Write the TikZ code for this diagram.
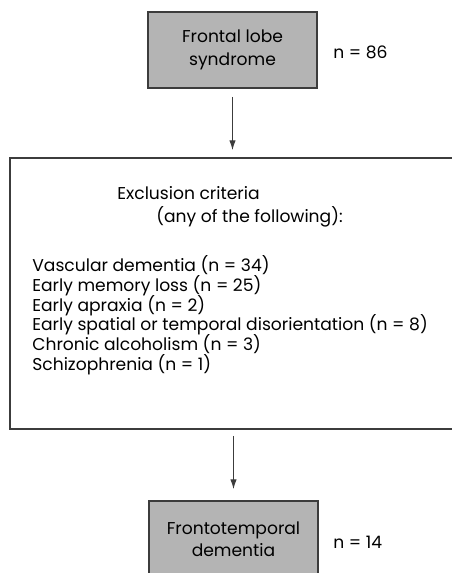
\documentclass[tikz,border=0pt]{standalone}
\usepackage{fontspec}
\setmainfont{Poppins}
\usetikzlibrary{arrows.meta}
\definecolor{boxgray}{RGB}{180,180,180}
\definecolor{linegray}{RGB}{60,60,60}

\begin{document}
\begin{tikzpicture}[
    font=\fontsize{9.75}{11.2}\selectfont,
    stagebox/.style={rectangle, draw=linegray, line width=1pt, fill=boxgray, align=center, font=\fontsize{9.75}{12.8}\selectfont, minimum width=3.38cm, minimum height=1.52cm},
    count/.style={anchor=west, inner sep=0pt},
    flow/.style={-{Latex[length=5.5pt, width=3.6pt]}, line width=0.6pt, color=linegray}
  ]
    \useasboundingbox (0,0) rectangle (9.04,-11.46);

    \node[stagebox] (frontal) at (4.65,-1.0) {Frontal lobe\\syndrome};
    \node[count] (n86) at (6.66,-1.04) {n = 86};

    \node[rectangle, draw=linegray, line width=1pt, minimum width=9.2cm, minimum height=5.42cm] (excl) at (4.8,-5.87) {};
    \node[anchor=base west, inner sep=0pt] (head) at (2.34,-3.99) {Exclusion criteria};
    \node[anchor=base west, inner sep=0pt] (subhead) at (3.12,-4.45) {(any of the following):};
    \node[anchor=north west, inner sep=0pt, align=left, font={\fontsize{9.75}{11.2}\selectfont\lineskiplimit=-6pt\relax}] (list) at (0.64,-5.11) {Vascular dementia (n = 34)\\
      Early memory loss (n = 25)\\
      Early apraxia (n = 2)\\
      Early spatial or temporal disorientation (n = 8)\\
      Chronic alcoholism (n = 3)\\
      Schizophrenia (n = 1)};

    \node[stagebox] (ftd) at (4.67,-10.78) {Frontotemporal\\dementia};
    \node[count] (n14) at (6.66,-10.84) {n = 14};

    \draw[flow, shorten <=0.16cm, shorten >=0.14cm] (frontal) -- (frontal |- excl.north);
    \draw[flow, shorten <=0.12cm, shorten >=0.22cm] (ftd |- excl.south) -- (ftd);
  \end{tikzpicture}
\end{document}
